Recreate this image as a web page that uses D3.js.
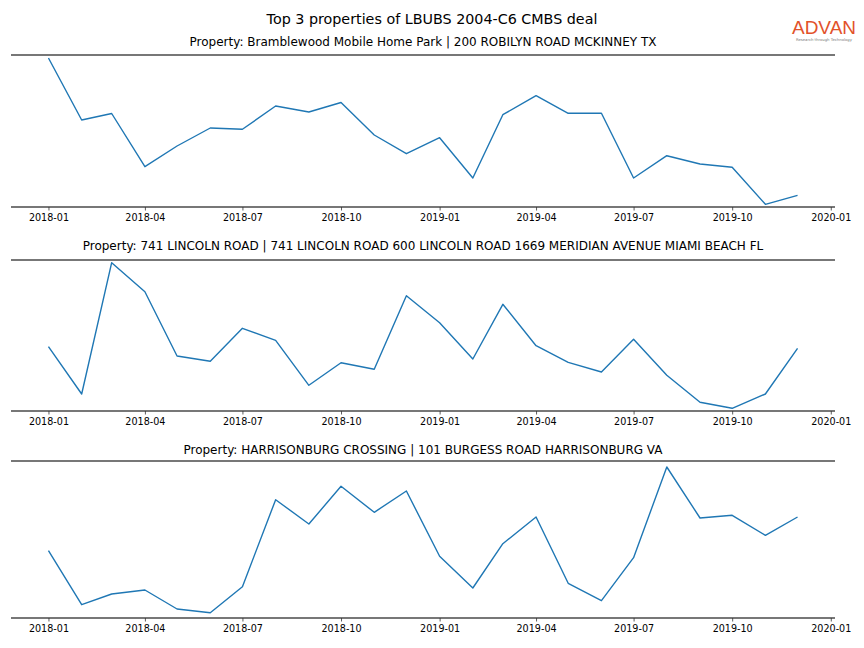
<!DOCTYPE html>
<html>
<head>
<meta charset="utf-8">
<script src="https://cdn.jsdelivr.net/npm/d3@7"></script>
<style>
  body { margin: 0; background: #fff; }
  svg { display: block; font-family: "DejaVu Sans", sans-serif; }
</style>
</head>
<body>
<svg id="chart" width="864" height="648"></svg>
<script>
// ---- Data ----
const chartTitle = "Top 3 properties of LBUBS 2004-C6 CMBS deal";
const months = ["2018-01","2018-02","2018-03","2018-04","2018-05","2018-06","2018-07","2018-08","2018-09","2018-10","2018-11","2018-12",
                "2019-01","2019-02","2019-03","2019-04","2019-05","2019-06","2019-07","2019-08","2019-09","2019-10","2019-11","2019-12"];
const propertyTitles = [
  "Property: Bramblewood Mobile Home Park | 200 ROBILYN ROAD MCKINNEY TX",
  "Property: 741 LINCOLN ROAD | 741 LINCOLN ROAD 600 LINCOLN ROAD 1669 MERIDIAN AVENUE MIAMI BEACH FL",
  "Property: HARRISONBURG CROSSING | 101 BURGESS ROAD HARRISONBURG VA"
];
const bramblewood = [149, 87, 93.5, 40.3, 61, 79, 77.7, 101, 95, 104.5, 72, 53.3,
                     69.3, 29, 92.3, 111.3, 93.7, 93.7, 29, 51.3, 43, 39.7, 2.7, 11.7];
const lincoln = [64.3, 17, 148.3, 119.3, 55, 49.7, 82.7, 70.7, 25.7, 48.3, 41.7, 115.3,
                 88.3, 52, 106.7, 65.3, 48.7, 39, 71.7, 35.7, 8.7, 2.7, 17, 62.7];
const harrisonburg = [67.3, 13.3, 24, 28, 9, 5.3, 31.3, 118.3, 94, 131.7, 105.7, 127,
                      61.7, 30, 74.3, 101, 34.7, 17.3, 60.3, 151, 100, 102.7, 82.7, 101];
const seriesList = [bramblewood, lincoln, harrisonburg];
const yDomains = [[0, 152], [0, 151], [0, 157]];
const tickLabels = ["2018-01","2018-04","2018-07","2018-10","2019-01","2019-04","2019-07","2019-10","2020-01"];

// ---- Layout ----
const svg = d3.select("#chart");
const W = 864;
const left = 11, right = 835;
const panels = [
  { top: 55, bottom: 207, titleY: 46 },
  { top: 260, bottom: 411, titleY: 250 },
  { top: 461, bottom: 618, titleY: 454 }
];
const parse = d3.timeParse("%Y-%m");
const dates = months.map(parse);
const d0 = dates[0], d1 = dates[dates.length - 1];
const span = d1 - d0;
const x = d3.scaleTime()
  .domain([new Date(+d0 - 0.05 * span), new Date(+d1 + 0.05 * span)])
  .range([left, right]);
const tickDates = tickLabels.map(parse);
const spineColor = "#4a4a4a";

svg.append("text")
  .attr("x", W / 2).attr("y", 24)
  .attr("text-anchor", "middle")
  .attr("font-size", 14.3)
  .attr("fill", "#000")
  .text(chartTitle);

// logo
const logo = svg.append("g");
logo.append("text")
  .attr("x", 824).attr("y", 34)
  .attr("text-anchor", "middle")
  .attr("font-family", "Liberation Sans, Arial, sans-serif")
  .attr("font-size", 19)
  .attr("fill", "#e2522b")
  .text("ADVAN");
logo.append("text")
  .attr("x", 824).attr("y", 40.5)
  .attr("text-anchor", "middle")
  .attr("font-size", 3.8)
  .attr("fill", "#777")
  .text("Research through Technology");

panels.forEach((p, i) => {
  const y = d3.scaleLinear().domain(yDomains[i]).range([p.bottom, p.top]);
  const g = svg.append("g");

  g.append("text")
    .attr("x", (left + right) / 2).attr("y", p.titleY)
    .attr("text-anchor", "middle")
    .attr("font-size", 12)
    .attr("fill", "#000")
    .text(propertyTitles[i]);

  // top spine
  g.append("line")
    .attr("x1", left).attr("x2", right)
    .attr("y1", p.top).attr("y2", p.top)
    .attr("stroke", spineColor).attr("stroke-width", 1.6);

  // x axis
  const ax = g.append("g")
    .attr("transform", `translate(0,${p.bottom})`)
    .call(d3.axisBottom(x).tickValues(tickDates).tickFormat(d3.timeFormat("%Y-%m")).tickSize(3.5).tickPadding(4));
  ax.select(".domain")
    .attr("d", `M${left},0H${right}`)
    .attr("stroke", spineColor).attr("stroke-width", 1.6);
  ax.selectAll(".tick line").attr("stroke", "#333").attr("stroke-width", 0.8);
  ax.selectAll(".tick text")
    .attr("font-family", "DejaVu Sans, sans-serif")
    .attr("font-size", 9.6)
    .attr("fill", "#000");

  const line = d3.line()
    .x((d, j) => x(dates[j]))
    .y(d => y(d));
  g.append("path")
    .datum(seriesList[i])
    .attr("d", line)
    .attr("fill", "none")
    .attr("stroke", "#1f77b4")
    .attr("stroke-width", 1.4)
    .attr("stroke-linejoin", "round");
});
</script>
</body>
</html>
